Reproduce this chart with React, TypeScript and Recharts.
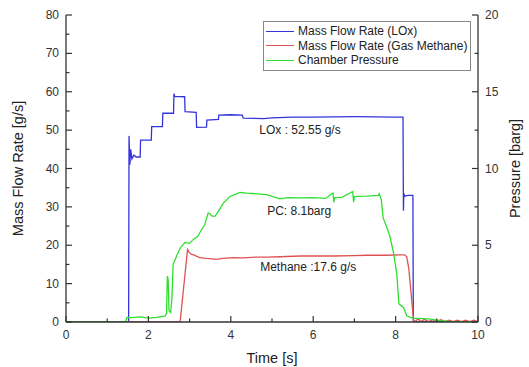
import React from 'react';
import { LineChart, Line, XAxis, YAxis, Legend, ReferenceDot } from 'recharts';

// ---- Data (time in s) ----
const loxTime = [0, 1.52, 1.53, 1.55, 1.57, 1.6, 1.65, 1.7, 1.8, 1.81, 2.07, 2.08, 2.34, 2.35, 2.61, 2.62, 2.64, 2.88, 2.89, 3.16, 3.17, 3.41, 3.42, 3.7, 3.71, 4.0, 4.28, 4.3, 4.8, 5.0, 5.5, 6.0, 7.0, 8.0, 8.18, 8.19, 8.2, 8.22, 8.3, 8.42, 8.43, 10];
const loxRate = [0, 0, 48.5, 41, 45, 42.5, 43.5, 43, 43, 47.4, 47.4, 50.9, 50.9, 54.4, 54.4, 59.5, 58.8, 58.7, 54.8, 54.6, 50.7, 50.8, 52.6, 52.8, 53.9, 54, 53.9, 53.1, 53, 53.2, 53.4, 53.4, 53.5, 53.4, 53.4, 29, 33.5, 32.8, 33, 33, 0, 0];

const ch4Time = [0, 2.77, 2.95, 3.0, 3.05, 3.1, 3.24, 3.4, 3.5, 3.65, 3.8, 4.05, 4.3, 4.6, 4.87, 5.2, 5.68, 6.0, 6.5, 7.0, 7.3, 7.8, 8.1, 8.22, 8.27, 8.32, 8.38, 8.43, 8.45, 8.55, 8.62, 8.7, 8.8, 8.9, 9.0, 9.1, 9.2, 9.3, 9.4, 9.5, 9.6, 9.7, 9.8, 9.9, 10];
const ch4Rate = [0, 0, 18.9, 18.0, 17.6, 17.5, 16.8, 16.6, 16.5, 16.3, 16.6, 16.8, 16.7, 16.9, 16.9, 17.0, 17.2, 17.2, 17.2, 17.3, 17.4, 17.4, 17.5, 17.5, 17.0, 14, 7, 1, 0, 0.8, 0.1, 0.7, 0.1, 0.6, 0.1, 0.6, 0.1, 0.5, 0.1, 0.5, 0.1, 0.5, 0.1, 0.5, 0.1];

const pcTime = [0, 1.45, 1.48, 1.6, 1.8, 2.0, 2.2, 2.4, 2.44, 2.46, 2.48, 2.5, 2.54, 2.57, 2.6, 2.64, 2.7, 2.78, 2.89, 3.0, 3.09, 3.2, 3.25, 3.37, 3.45, 3.5, 3.54, 3.62, 3.7, 3.82, 3.98, 4.14, 4.22, 4.38, 4.63, 4.87, 5.19, 5.4, 5.68, 6.0, 6.3, 6.48, 6.5, 6.52, 6.7, 6.96, 6.98, 7.0, 7.06, 7.3, 7.58, 7.6, 7.65, 7.7, 7.74, 7.86, 7.95, 8.03, 8.08, 8.19, 8.27, 8.4, 8.8, 9.0, 9.4, 10];
const pcBarg = [0, 0, 0.3, 0.28, 0.33, 0.25, 0.3, 0.38, 0.57, 3.0, 2.75, 0.75, 0.62, 1.5, 3.75, 4.0, 4.4, 4.85, 5.18, 5.12, 5.38, 5.58, 5.83, 6.35, 7.1, 7.05, 6.9, 6.9, 7.22, 7.75, 8.18, 8.35, 8.45, 8.4, 8.35, 8.3, 8.02, 8.1, 8.08, 8.1, 8.05, 8.4, 7.8, 8.1, 8.12, 8.5, 7.8, 8.15, 8.18, 8.2, 8.25, 8.35, 8.0, 6.75, 6.5, 5.6, 4.5, 3.1, 1.18, 0.95, 0.4, 0.25, 0.2, 0.12, 0, 0];

const xTicks = [0, 1, 2, 3, 4, 5, 6, 7, 8, 9, 10];
const leftTicks = [0, 5, 10, 15, 20, 25, 30, 35, 40, 45, 50, 55, 60, 65, 70, 75, 80];
const rightTicks = [0, 2.5, 5, 7.5, 10, 12.5, 15, 17.5, 20];

const seriesNames = ['Mass Flow Rate (LOx)', 'Mass Flow Rate (Gas Methane)', 'Chamber Pressure'];
const annotations = [
  { t: 5.68, v: 50, text: 'LOx : 52.55 g/s' },
  { t: 5.66, v: 28.9, text: 'PC: 8.1barg' },
  { t: 5.88, v: 14.3, text: 'Methane :17.6 g/s' },
];

const loxData = loxTime.map((t, i) => ({ t, v: loxRate[i] }));
const ch4Data = ch4Time.map((t, i) => ({ t, v: ch4Rate[i] }));
const pcData = pcTime.map((t, i) => ({ t, v: pcBarg[i] }));

const FONT = '"Liberation Sans", Arial, Helvetica, sans-serif';
const AX = '#333';
const COLORS = ['#3434dc', '#e05252', '#2ee02e'];

const BottomTick = (p: any) => {
  const { x, y, payload } = p;
  const v = payload.value;
  const major = v % 2 === 0;
  return (
    <g>
      <line x1={x} x2={x} y1={y} y2={y - (major ? 6 : 3.5)} stroke={AX} strokeWidth={1.2} />
      {major && (
        <text x={x} y={y + 13} textAnchor="middle" dominantBaseline="central" fontSize={12} fill={AX} fontFamily={FONT}>
          {v}
        </text>
      )}
    </g>
  );
};

const TopTick = (p: any) => {
  const { x, y, payload } = p;
  const major = payload.value % 2 === 0;
  return <line x1={x} x2={x} y1={y} y2={y + (major ? 6 : 3.5)} stroke={AX} strokeWidth={1.2} />;
};

const LeftTick = (p: any) => {
  const { x, y, payload } = p;
  const v = payload.value;
  const major = v % 10 === 0;
  return (
    <g>
      <line x1={x} x2={x + (major ? 6 : 3.5)} y1={y} y2={y} stroke={AX} strokeWidth={1.2} />
      {major && (
        <text x={x - 7} y={y} textAnchor="end" dominantBaseline="central" fontSize={12} fill={AX} fontFamily={FONT}>
          {v}
        </text>
      )}
    </g>
  );
};

const RightTick = (p: any) => {
  const { x, y, payload } = p;
  const v = payload.value;
  const major = v % 5 === 0;
  return (
    <g>
      <line x1={x} x2={x - (major ? 6 : 3.5)} y1={y} y2={y} stroke={AX} strokeWidth={1.2} />
      {major && (
        <text x={x + 7} y={y} textAnchor="start" dominantBaseline="central" fontSize={12} fill={AX} fontFamily={FONT}>
          {v}
        </text>
      )}
    </g>
  );
};

const LegendBox = () => (
  <div
    style={{
      border: '1px solid #888',
      background: '#fff',
      padding: '2px 0 2px 2px',
      fontFamily: FONT,
      fontSize: 12,
      color: '#222',
      lineHeight: '14.5px',
      boxSizing: 'border-box',
    }}
  >
    {seriesNames.map((n, i) => (
      <div key={n} style={{ display: 'flex', alignItems: 'center' }}>
        <div style={{ width: 28, height: 0, borderTop: `1.5px solid ${COLORS[i]}`, marginRight: 4 }} />
        <span>{n}</span>
      </div>
    ))}
  </div>
);

export default function App() {
  return (
    <div style={{ position: 'absolute', left: 0, top: 0, background: '#fff' }}>
      <LineChart
        width={529}
        height={367}
        margin={{ top: 15, right: 0, bottom: 0, left: 0 }}
        style={{ fontFamily: FONT }}
      >
        <XAxis
          dataKey="t"
          type="number"
          domain={[0, 10]}
          ticks={xTicks}
          interval={0}
          allowDataOverflow
          height={45}
          tickSize={0}
          tickMargin={0}
          tickLine={false}
          tick={BottomTick}
          axisLine={{ stroke: AX, strokeWidth: 1.3 }}
          label={{ value: 'Time [s]', position: 'center', dy: 13, fontSize: 14.5, fill: '#222', fontFamily: FONT }}
        />
        <XAxis
          xAxisId="top"
          orientation="top"
          dataKey="t"
          type="number"
          domain={[0, 10]}
          ticks={xTicks}
          interval={0}
          allowDataOverflow
          height={0}
          tickSize={0}
          tickMargin={0}
          tickLine={false}
          tick={TopTick}
          axisLine={{ stroke: AX, strokeWidth: 1.3 }}
        />
        <YAxis
          yAxisId="left"
          domain={[0, 80]}
          ticks={leftTicks}
          interval={0}
          allowDataOverflow
          width={66}
          tickSize={0}
          tickMargin={0}
          tickLine={false}
          tick={LeftTick}
          axisLine={{ stroke: AX, strokeWidth: 1.3 }}
          label={{ value: 'Mass Flow Rate [g/s]', angle: -90, position: 'center', dx: -15, fontSize: 14.5, fill: '#222', fontFamily: FONT }}
        />
        <YAxis
          yAxisId="right"
          orientation="right"
          domain={[0, 20]}
          ticks={rightTicks}
          interval={0}
          allowDataOverflow
          width={51}
          tickSize={0}
          tickMargin={0}
          tickLine={false}
          tick={RightTick}
          axisLine={{ stroke: AX, strokeWidth: 1.3 }}
          label={{ value: 'Pressure [barg]', angle: -90, position: 'center', dx: 11, fontSize: 14.5, fill: '#222', fontFamily: FONT }}
        />
        <Line yAxisId="left" data={loxData} dataKey="v" name={seriesNames[0]} type="linear" stroke={COLORS[0]} strokeWidth={1.3} dot={false} isAnimationActive={false} />
        <Line yAxisId="left" data={ch4Data} dataKey="v" name={seriesNames[1]} type="linear" stroke={COLORS[1]} strokeWidth={1.3} dot={false} isAnimationActive={false} />
        <Line yAxisId="right" data={pcData} dataKey="v" name={seriesNames[2]} type="linear" stroke={COLORS[2]} strokeWidth={1.3} dot={false} isAnimationActive={false} />
        {annotations.map((a) => (
          <ReferenceDot
            key={a.text}
            yAxisId="left"
            x={a.t}
            y={a.v}
            r={0}
            fill="none"
            stroke="none"
            label={{ value: a.text, position: 'center', fontSize: 12, fill: '#222', fontFamily: FONT }}
          />
        ))}
        <Legend
          layout="vertical"
          align="center"
          verticalAlign="middle"
          wrapperStyle={{ left: 263, top: 21, width: 208 }}
          content={LegendBox}
        />
      </LineChart>
    </div>
  );
}
